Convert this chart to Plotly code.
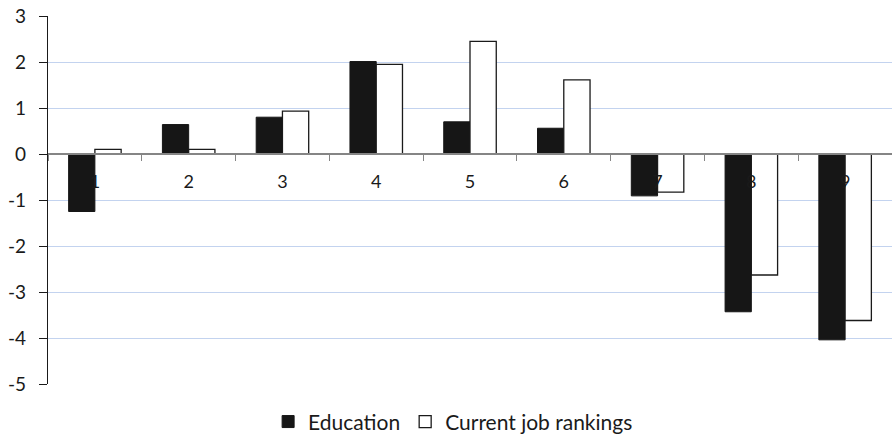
import plotly.graph_objects as go

categories = ["1", "2", "3", "4", "5", "6", "7", "8", "9"]
education = [-1.25, 0.64, 0.80, 2.01, 0.70, 0.56, -0.91, -3.43, -4.04]
current_job = [0.10, 0.10, 0.93, 1.95, 2.45, 1.61, -0.83, -2.63, -3.62]
y_ticks = [-5, -4, -3, -2, -1, 0, 1, 2, 3]

FONT = "Lato"

fig = go.Figure()
fig.add_trace(go.Bar(
    x=categories, y=education, name="Education",
    marker=dict(color="#161616", line=dict(color="#161616", width=1)),
))
fig.add_trace(go.Bar(
    x=categories, y=current_job, name="Current job rankings",
    marker=dict(color="#ffffff", line=dict(color="#1a1a1a", width=1.3)),
))

ymin, ymax = -5, 3
fig.update_layout(
    width=892, height=435,
    margin=dict(l=48, r=0, t=16, b=51, autoexpand=False),
    paper_bgcolor="white", plot_bgcolor="white",
    barmode="group", bargap=0.44, bargroupgap=0,
    font=dict(family=FONT, size=17, color="#1a1a1a"),
    showlegend=True,
    legend=dict(orientation="h", x=0.48, xanchor="center", y=-0.103, yanchor="middle",
                font=dict(size=21, family=FONT), itemwidth=30, traceorder="normal"),
    xaxis=dict(
        type="category", anchor="free", position=(0 - ymin) / (ymax - ymin),
        showline=True, linecolor="#858585", linewidth=1.5, automargin=False,
        ticks="outside", tickson="boundaries", ticklen=6, tickcolor="#858585", tickwidth=1.3,
        showgrid=False, tickfont=dict(size=18, family=FONT),
        ticklabelstandoff=12,
    ),
    yaxis=dict(
        range=[ymin, ymax], tickvals=y_ticks, ticktext=[str(v) for v in y_ticks],
        showline=True, linecolor="#1a1a1a", linewidth=1.3, automargin=False,
        ticks="outside", ticklen=8, tickcolor="#1a1a1a", tickwidth=1.3,
        showgrid=True, gridcolor="#c3d3ef", gridwidth=1.3, zeroline=False,
        tickfont=dict(size=19, family=FONT), ticklabelstandoff=9,
    ),
)

fig.write_html("out.html", config={"displayModeBar": False},
               post_script="document.body.style.margin='0px';")
